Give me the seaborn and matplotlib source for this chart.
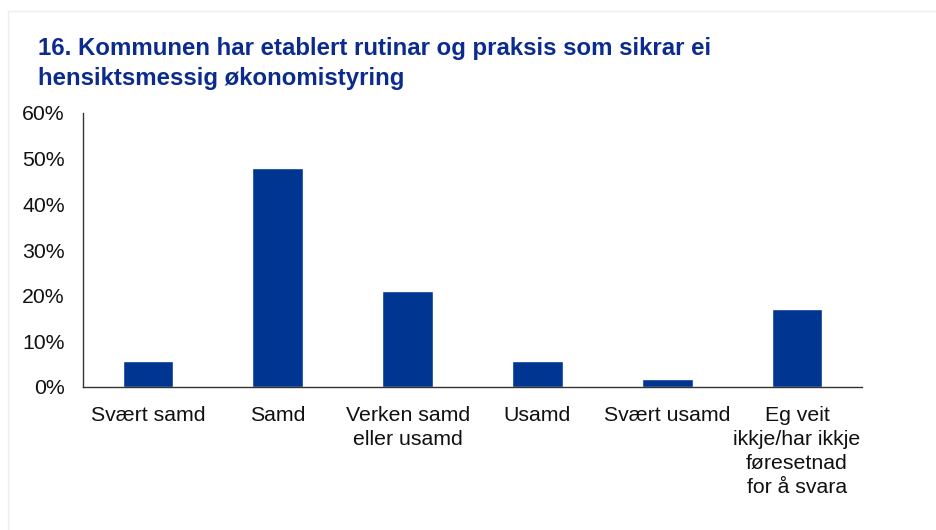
import matplotlib.pyplot as plt
import matplotlib.patches as mpatches
from matplotlib.ticker import FixedLocator, PercentFormatter
import seaborn as sns
import pandas as pd

# --- data ---
categories = ['Svært samd', 'Samd', 'Verken samd\neller usamd', 'Usamd',
              'Svært usamd', 'Eg veit\nikkje/har ikkje\nføresetnad\nfor å svara']
values = [5.7, 48.0, 21.0, 5.7, 1.8, 17.1]
y_ticks = [0, 10, 20, 30, 40, 50, 60]

TITLE = '16. Kommunen har etablert rutinar og praksis som sikrar ei\nhensiktsmessig økonomistyring'
BAR_COLOR = '#003591'
TITLE_COLOR = '#0b2c8c'

sns.set_style('white')
plt.rcParams['font.family'] = ['Liberation Sans', 'DejaVu Sans']

df = pd.DataFrame({'kategori': categories, 'verdi': values})

fig = plt.figure(figsize=(9.36, 5.30), dpi=100)
fig.patch.set_facecolor('white')
ax = fig.add_axes([83 / 936, 1 - 387 / 530, (862 - 83) / 936, (387 - 113) / 530])

sns.barplot(data=df, x='kategori', y='verdi', color=BAR_COLOR, width=0.39,
            saturation=1, ax=ax)

ax.set_ylim(0, 60)
ax.set_xlim(-0.5, len(categories) - 0.5)
ax.set_yticks(y_ticks)
ax.yaxis.set_major_formatter(PercentFormatter(decimals=0))
ax.set_xlabel('')
ax.set_ylabel('')

# tick marks between categories, labels centered on bars
ax.xaxis.set_major_locator(FixedLocator([i - 0.5 for i in range(len(categories) + 1)]))
ax.xaxis.set_major_formatter(plt.NullFormatter())
ax.xaxis.set_minor_locator(FixedLocator(list(range(len(categories)))))
ax.set_xticklabels(categories, minor=True)
ax.tick_params(axis='x', which='major', direction='out', length=6, width=1, color='#333333')
ax.tick_params(axis='x', which='minor', length=0, pad=14, labelsize=15.3, colors='#111111')
ax.tick_params(axis='y', direction='out', length=5, width=1, color='#333333',
               labelsize=15.3, labelcolor='#111111', pad=8)
for lbl in ax.get_xticklabels(minor=True):
    lbl.set_linespacing(1.32)

for side in ['top', 'right']:
    ax.spines[side].set_visible(False)
for side in ['left', 'bottom']:
    ax.spines[side].set_color('#333333')
    ax.spines[side].set_linewidth(1)

fig.text(38 / 936, 1 - 37 / 530, TITLE, ha='left', va='top', fontsize=17.3,
         fontweight='bold', color=TITLE_COLOR, linespacing=1.38)

# faint frame around the chart area
fig.patches.append(mpatches.Rectangle((8 / 936, -0.05), 1.1, 1 - 11 / 530 + 0.05,
                                      transform=fig.transFigure, fill=False,
                                      edgecolor='#eeeeee', linewidth=1))

fig.savefig('out.png', dpi=100, facecolor='white')
plt.close(fig)
